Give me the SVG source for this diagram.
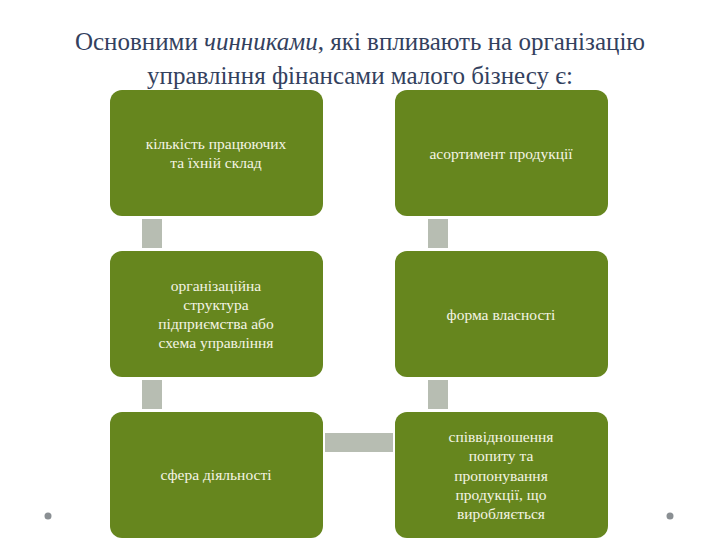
<svg xmlns="http://www.w3.org/2000/svg" width="720" height="540" viewBox="0 0 720 540">
<style>
.n{fill:#66861e}
.t{font-family:"Liberation Serif","DejaVu Serif",serif;font-size:15.5px;fill:#f4f4e4;text-anchor:middle}
.h{font-family:"Liberation Serif","DejaVu Serif",serif;font-size:25px;fill:#33415e;text-anchor:middle}
.c{fill:#b7bdb2}
</style>
<rect width="720" height="540" fill="#ffffff"/>
<text class="h" x="360" y="50">Основними <tspan font-style="italic">чинниками</tspan>, які впливають на організацію</text>
<text class="h" x="360" y="84">управління фінансами малого бізнесу є:</text>
<g id="connectors">
<rect class="c" x="142" y="219" width="20" height="29"/>
<rect class="c" x="142" y="380" width="20" height="29"/>
<rect class="c" x="428" y="219" width="20" height="29"/>
<rect class="c" x="428" y="380" width="20" height="29"/>
<rect class="c" x="325" y="433" width="68" height="19"/>
</g>
<g id="n1"><rect class="n" x="110" y="90" width="213" height="126" rx="12"/>
<text class="t" x="216" y="149">кількість працюючих</text><text class="t" x="216" y="168">та їхній склад</text></g>
<g id="n2"><rect class="n" x="395" y="90" width="213" height="126" rx="12"/>
<text class="t" x="501" y="159">асортимент продукції</text></g>
<g id="n3"><rect class="n" x="110" y="251" width="213" height="126" rx="12"/>
<text class="t" x="216" y="291">організаційна</text><text class="t" x="216" y="310">структура</text><text class="t" x="216" y="329">підприємства або</text><text class="t" x="216" y="348">схема управління</text></g>
<g id="n4"><rect class="n" x="395" y="251" width="213" height="126" rx="12"/>
<text class="t" x="501" y="320">форма власності</text></g>
<g id="n5"><rect class="n" x="110" y="412" width="213" height="126" rx="12"/>
<text class="t" x="216" y="480">сфера діяльності</text></g>
<g id="n6"><rect class="n" x="395" y="412" width="213" height="126" rx="12"/>
<text class="t" x="501" y="442">співвідношення</text><text class="t" x="501" y="461">попиту та</text><text class="t" x="501" y="481">пропонування</text><text class="t" x="501" y="500">продукції, що</text><text class="t" x="501" y="519">виробляється</text></g>
<circle cx="48" cy="516" r="3.5" fill="#8a8f93"/>
<circle cx="670" cy="516" r="3.5" fill="#8a8f93"/>
</svg>
